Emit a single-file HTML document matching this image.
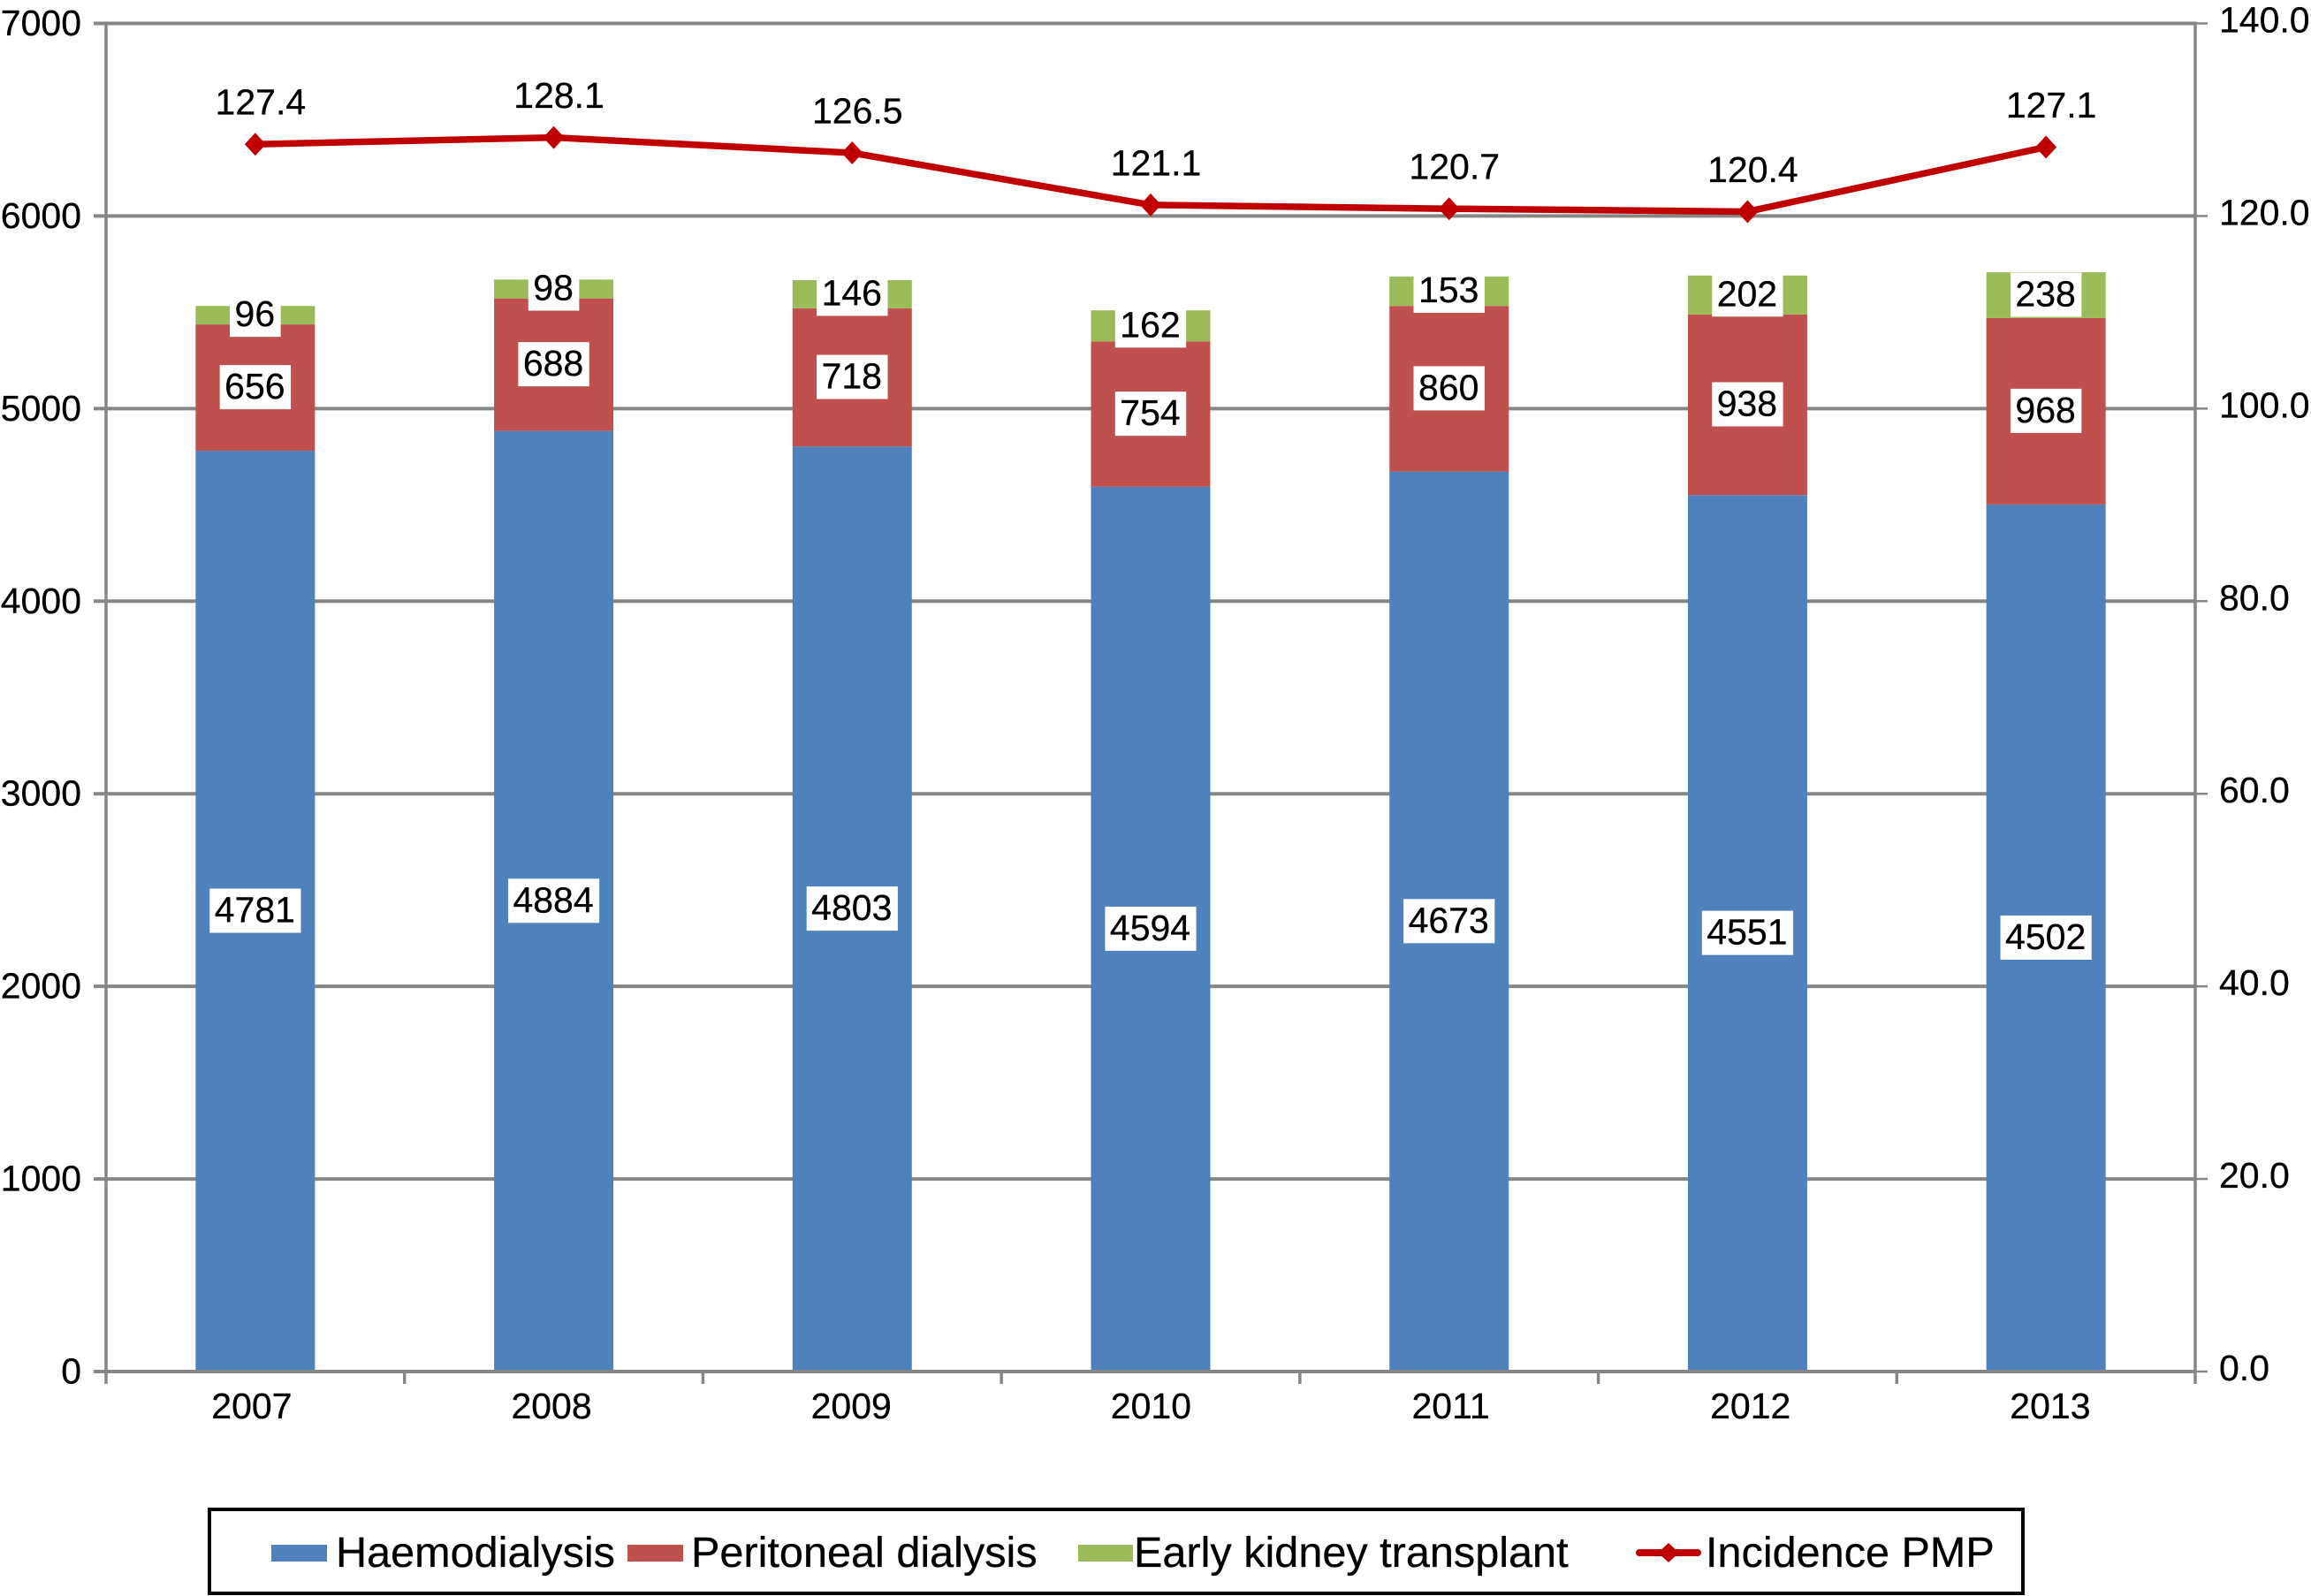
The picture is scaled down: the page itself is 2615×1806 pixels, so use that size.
<!DOCTYPE html>
<html lang="en">
<head>
<meta charset="utf-8">
<title>Incident dialysis patients by modality, 2007-2013</title>
<style>
  html, body { margin: 0; padding: 0; background: #fff; }
  body { width: 2615px; height: 1806px; overflow: hidden; }
  svg { display: block; font-family: "Liberation Sans", Arial, sans-serif; fill: #000; }
  svg text { stroke: #000; stroke-width: 0.3px; }
</style>
</head>
<body>
<svg id="chart" xmlns="http://www.w3.org/2000/svg" width="2615" height="1806" viewBox="0 0 2615 1806">
  <rect x="0" y="0" width="2615" height="1806" fill="#ffffff"/>
  <g id="grid"></g>
  <g id="bars"></g>
  <g id="axes"></g>
  <g id="line"></g>
  <g id="labels"></g>

  <g>
    <rect x="237" y="1708" width="2052" height="95" fill="#ffffff" stroke="#000000" stroke-width="4"/>
    <g>
      <rect x="307" y="1748" width="63" height="19" fill="#4f81bd"/>
      <text x="380" y="1773" font-size="48.6">Haemodialysis</text>
    </g>
    <g>
      <rect x="710" y="1748" width="63" height="19" fill="#c0504d"/>
      <text x="782" y="1773" font-size="48.6">Peritoneal dialysis</text>
    </g>
    <g>
      <rect x="1220" y="1748" width="62" height="19" fill="#9bbb59"/>
      <text x="1283" y="1773" font-size="48.6">Early kidney transplant</text>
    </g>
    <g>
      <line x1="1855" y1="1757" x2="1921" y2="1757" stroke="#c00000" stroke-width="8" stroke-linecap="round"/>
      <polygon points="1888,1746 1900,1757 1888,1768 1876,1757" fill="#c00000"/>
      <text x="1930" y="1773" font-size="48.6">Incidence PMP</text>
    </g>
  </g>
</svg>

<script>
const categories = ['2007', '2008', '2009', '2010', '2011', '2012', '2013'];
const haemodialysis = [4781, 4884, 4803, 4594, 4673, 4551, 4502];
const peritonealDialysis = [656, 688, 718, 754, 860, 938, 968];
const earlyTransplant = [96, 98, 146, 162, 153, 202, 238];
const incidencePmp = [127.4, 128.1, 126.5, 121.1, 120.7, 120.4, 127.1];
const leftTickLabels = ['0', '1000', '2000', '3000', '4000', '5000', '6000', '7000'];
const rightTickLabels = ['0.0', '20.0', '40.0', '60.0', '80.0', '100.0', '120.0', '140.0'];

const NS = 'http://www.w3.org/2000/svg';
const plotLeft = 120, plotRight = 2484, plotTop = 26.5, plotBottom = 1552;
const leftMax = 7000, rightMax = 140;
const barWidth = 135, fontSize = 41, axisColor = '#868686';
const slot = (plotRight - plotLeft) / categories.length;

function xCenter(i) { return plotLeft + slot * (i + 0.5); }
function yLeft(v) { return plotBottom - (v / leftMax) * (plotBottom - plotTop); }
function yRight(v) { return plotBottom - (v / rightMax) * (plotBottom - plotTop); }
function xCategoryLabel(i) { return xCenter(i) + (i - 3) * 1.45 + 0.4; }

function mk(tag, attrs, parent, text) {
  const el = document.createElementNS(NS, tag);
  for (const k in attrs) el.setAttribute(k, attrs[k]);
  if (text !== undefined) el.textContent = text;
  parent.appendChild(el);
  return el;
}

const gridG = document.getElementById('grid');
const barsG = document.getElementById('bars');
const axesG = document.getElementById('axes');
const lineG = document.getElementById('line');
const labelsG = document.getElementById('labels');

/* Gridlines and left-axis tick labels */
leftTickLabels.forEach(function (label) {
  const y = yLeft(Number(label));
  const g = mk('line', { x1: plotLeft - 14, y1: y, x2: plotRight, y2: y, stroke: axisColor, 'stroke-width': 4 }, gridG);
  
  
  const t = mk('text', { x: 92, y: y + 13.5, 'text-anchor': 'end', 'font-size': fontSize }, axesG, label);
  
  
});

/* Stacked bars */
const seriesList = [
  { key: 'haemodialysis', values: haemodialysis, color: '#4f81bd' },
  { key: 'peritoneal-dialysis', values: peritonealDialysis, color: '#c0504d' },
  { key: 'early-transplant', values: earlyTransplant, color: '#9bbb59' }
];
categories.forEach(function (cat, i) {
  let base = 0;
  seriesList.forEach(function (s) {
    const v = s.values[i];
    const top = yLeft(base + v);
    const bottom = yLeft(base);
    const r = mk('rect', { x: xCenter(i) - barWidth / 2, y: top, width: barWidth, height: bottom - top, fill: s.color }, barsG);
    
    

    const cy = (top + bottom) / 2;
    const text = String(v);
    const boxW = text.length * 0.556 * fontSize + 12;
    const box = mk('rect', { x: xCenter(i) - boxW / 2, y: cy - 25.5, width: boxW, height: 50, fill: '#ffffff' }, labelsG);
    
    
    const t = mk('text', { x: xCenter(i) - 0.5, y: cy + 12.5, 'text-anchor': 'middle', 'font-size': fontSize }, labelsG, text);
    
    
    base += v;
  });
});

/* Axes */
const leftAxis = mk('line', { x1: plotLeft, y1: plotTop - 2, x2: plotLeft, y2: plotBottom + 14, stroke: axisColor, 'stroke-width': 3.5 }, axesG);



const rightAxis = mk('line', { x1: plotRight, y1: plotTop - 2, x2: plotRight, y2: plotBottom + 14, stroke: axisColor, 'stroke-width': 3.5 }, axesG);



const xAxis = mk('line', { x1: plotLeft - 14, y1: plotBottom, x2: plotRight, y2: plotBottom, stroke: axisColor, 'stroke-width': 4 }, axesG);



rightTickLabels.forEach(function (label) {
  const y = yRight(Number(label));
  const tick = mk('line', { x1: plotRight, y1: y, x2: plotRight + 14, y2: y, stroke: axisColor, 'stroke-width': 2.5 }, axesG);
  
  
  const t = mk('text', { x: 2511, y: y + 10, 'font-size': fontSize }, axesG, label);
  
  
});

categories.forEach(function (cat, i) {
  const tx = plotLeft + slot * (i + 1);
  if (i < categories.length - 1) {
    const tick = mk('line', { x1: tx, y1: plotBottom, x2: tx, y2: plotBottom + 14, stroke: axisColor, 'stroke-width': 3.5 }, axesG);
    
    
  }
  const t = mk('text', { x: xCategoryLabel(i), y: 1605, 'text-anchor': 'middle', 'font-size': fontSize }, axesG, cat);
  
  
});

/* Incidence line */
const pts = incidencePmp.map(function (v, i) { return xCenter(i) + ',' + (yRight(v) - 0.6); }).join(' ');
const poly = mk('polyline', { points: pts, fill: 'none', stroke: '#c00000', 'stroke-width': 7.5, 'stroke-linejoin': 'round' }, lineG);



incidencePmp.forEach(function (v, i) {
  const x = xCenter(i), y = yRight(v) - 0.6;
  const m = mk('polygon', { points: x + ',' + (y - 13) + ' ' + (x + 12) + ',' + y + ' ' + x + ',' + (y + 13) + ' ' + (x - 12) + ',' + y, fill: '#c00000' }, lineG);
  
  
  const t = mk('text', { x: x + 6, y: y - 33.5, 'text-anchor': 'middle', 'font-size': fontSize }, labelsG, v.toFixed(1));
  
  
});
</script>
</body>
</html>
